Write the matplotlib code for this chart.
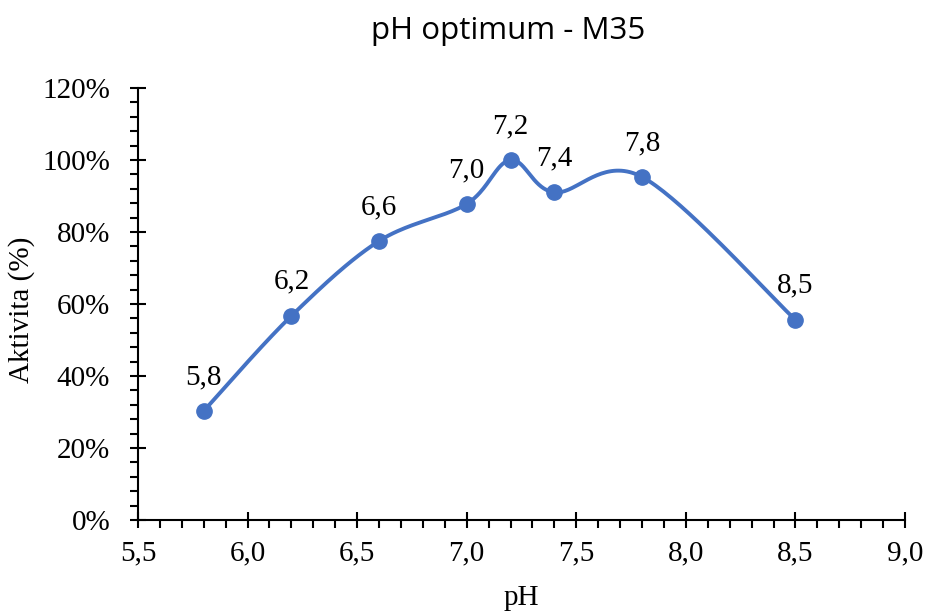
import numpy as np
import matplotlib
matplotlib.use("Agg")
import matplotlib.pyplot as plt
from matplotlib.ticker import MultipleLocator, FuncFormatter

# Data
ph = [5.8, 6.2, 6.6, 7.0, 7.2, 7.4, 7.8, 8.5]
activity = [0.303, 0.567, 0.775, 0.878, 1.0, 0.910, 0.953, 0.556]
labels = ["5,8", "6,2", "6,6", "7,0", "7,2", "7,4", "7,8", "8,5"]

title = "pH optimum - M35"
xlabel = "pH"
ylabel = "Aktivita (%)"

color = "#4472C4"
plt.rcParams["font.family"] = ["Liberation Serif", "Times New Roman", "DejaVu Serif"]
FS = 21

fig = plt.figure(figsize=(9.26, 6.11), dpi=100)
ax = fig.add_axes([138/926, 1-520/611, (905-138)/926, (520-88)/611])
ax.set_xlim(5.5, 9.0)
ax.set_ylim(0, 1.2)

# Smoothed line (Excel-like Bezier smoothing in display space)
fig.canvas.draw()
pts = ax.transData.transform(np.column_stack([ph, activity]))
n = len(pts)
curve = []
t = np.linspace(0, 1, 40)
for i in range(n - 1):
    p0 = pts[i - 1] if i > 0 else pts[i]
    p1 = pts[i]
    p2 = pts[i + 1]
    p3 = pts[i + 2] if i + 2 < n else pts[i + 1]
    c1 = p1 + (p2 - p0) / 6.0
    c2 = p2 - (p3 - p1) / 6.0
    seg = ((1 - t)[:, None] ** 3) * p1 + 3 * ((1 - t) ** 2 * t)[:, None] * c1 \
        + 3 * ((1 - t) * t ** 2)[:, None] * c2 + (t ** 3)[:, None] * p2
    curve.append(seg if i == 0 else seg[1:])
curve = np.vstack(curve)
curve_data = ax.transData.inverted().transform(curve)
ax.plot(curve_data[:, 0], curve_data[:, 1], color=color, lw=2.8, solid_capstyle="round", zorder=2)
ax.plot(ph, activity, "o", color=color, ms=11, zorder=3)

for x, y, lab in zip(ph, activity, labels):
    ax.annotate(lab, (x, y), xytext=(0, 24.5), textcoords="offset points",
                ha="center", va="center", fontsize=FS)

# Axes styling
for s in ["top", "right"]:
    ax.spines[s].set_visible(False)
for s in ["left", "bottom"]:
    ax.spines[s].set_linewidth(1.5)
    ax.spines[s].set_color("black")

ax.xaxis.set_major_locator(MultipleLocator(0.5))
ax.xaxis.set_minor_locator(MultipleLocator(0.1))
ax.yaxis.set_major_locator(MultipleLocator(0.2))
ax.yaxis.set_minor_locator(MultipleLocator(0.04))
ax.xaxis.set_major_formatter(FuncFormatter(lambda v, p: f"{v:.1f}".replace(".", ",")))
ax.yaxis.set_major_formatter(FuncFormatter(lambda v, p: f"{v*100:.0f}%"))
ax.tick_params(which="major", direction="inout", length=12, width=1.5, labelsize=FS)
ax.tick_params(which="minor", direction="out", length=6, width=1.5)
ax.tick_params(axis="x", which="major", pad=9)
ax.tick_params(axis="y", which="major", pad=14)

fig.text(508/926, 1-31/611, title, ha="center", va="center", fontsize=22.5, family="Open Sans")
fig.text(521/926, 1-598/611, xlabel, ha="center", va="center", fontsize=FS)
fig.text(22/926, 1-310/611, ylabel, ha="center", va="center", fontsize=FS, rotation=90)

fig.savefig("out.png", dpi=100)
